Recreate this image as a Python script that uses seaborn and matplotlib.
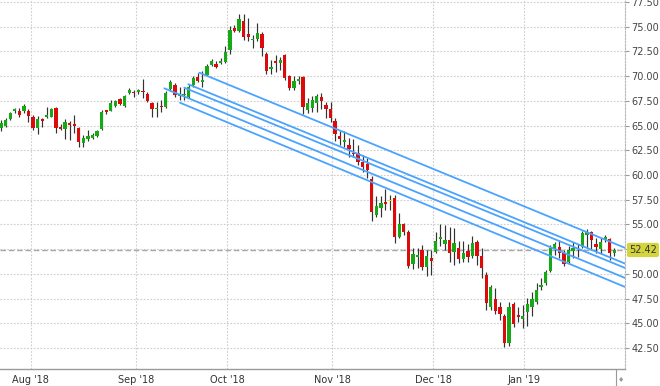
import numpy as np
import pandas as pd
import matplotlib
matplotlib.use("Agg")
import matplotlib.pyplot as plt
import matplotlib.transforms as mtransforms
from matplotlib.lines import Line2D
import seaborn as sns

sns.set_style("white")
plt.rcParams['font.family'] = ['DejaVu Sans']

# ---------------- data (daily OHLC, one value per trading day) ----------------
opens = [
    64.72, 64.99, 65.67, 66.50, 66.50, 66.50, 66.50, 65.84, 64.79, 65.64,
    65.84, 65.90, 66.75, 64.89, 64.62, 65.29, 65.19, 64.72, 63.27, 63.64,
    63.77, 63.95, 64.62, 66.51, 66.51, 67.01, 67.69, 67.01, 68.27, 68.37,
    68.37, 68.50, 68.16, 67.25, 66.65, 67.01, 66.91, 68.67, 69.10, 68.02,
    68.09, 67.92, 69.10, 69.94, 69.44, 70.12, 71.13, 71.20, 71.36, 71.46,
    72.64, 74.84, 74.60, 75.58, 74.26, 73.66, 73.76, 74.26, 72.24, 70.72,
    71.53, 71.36, 72.14, 70.01, 68.77, 69.54, 69.88, 66.58, 66.75, 67.25,
    67.92, 67.08, 66.68, 65.46, 63.98, 63.37, 63.04, 62.26, 62.20, 61.35,
    61.11, 59.60, 55.95, 56.69, 57.20, 57.38, 57.64, 53.76, 55.04, 54.27,
    51.00, 51.74, 52.41, 50.73, 51.64, 52.24, 53.53, 53.02, 53.43, 52.24,
    52.59, 51.47, 52.34, 51.81, 53.25, 51.81, 49.89, 46.68, 47.46, 46.62,
    45.74, 43.04, 46.92, 45.74, 45.44, 46.17, 46.62, 47.19, 48.70, 49.11,
    50.32, 52.59, 52.69, 52.08, 51.23, 52.34, 52.65, 52.75, 53.93, 54.20,
    52.99, 52.52, 53.43, 53.50, 52.15]
closes = [
    65.29, 65.56, 66.24, 66.68, 66.07, 67.01, 66.00, 64.72, 65.64, 65.46,
    66.07, 66.65, 64.72, 64.68, 65.39, 65.06, 64.99, 63.37, 63.77, 63.98,
    64.08, 64.42, 66.40, 66.40, 67.25, 67.49, 67.18, 68.02, 68.60, 68.27,
    68.60, 68.37, 67.49, 66.65, 66.75, 66.85, 68.27, 69.38, 68.09, 68.16,
    68.19, 68.93, 69.78, 69.54, 69.61, 71.03, 71.53, 70.96, 71.46, 72.47,
    74.67, 74.60, 75.78, 73.99, 73.99, 73.76, 74.33, 72.82, 70.55, 70.96,
    71.36, 71.63, 69.84, 68.77, 69.51, 69.71, 66.91, 67.25, 67.59, 67.99,
    67.52, 66.65, 65.80, 64.12, 63.61, 63.54, 62.63, 62.13, 61.35, 60.78,
    60.51, 56.29, 56.90, 57.14, 57.10, 57.38, 53.76, 55.04, 54.27, 50.83,
    51.98, 51.91, 50.73, 51.81, 51.33, 53.33, 53.70, 53.43, 52.08, 53.09,
    51.47, 52.08, 51.68, 53.09, 51.81, 50.62, 47.02, 48.64, 46.28, 45.94,
    42.98, 46.62, 44.93, 45.67, 45.74, 46.92, 47.46, 48.37, 48.87, 50.22,
    52.59, 53.02, 52.08, 50.97, 52.41, 52.59, 52.49, 54.10, 54.27, 53.43,
    52.69, 53.19, 53.70, 52.08, 52.42]
highs = [
    65.56, 65.77, 66.37, 66.81, 66.78, 67.18, 66.68, 66.07, 65.97, 65.77,
    66.88, 66.78, 66.88, 65.16, 65.67, 65.46, 66.07, 64.86, 64.05, 64.55,
    64.25, 64.55, 66.58, 66.58, 67.59, 67.59, 67.79, 68.09, 68.80, 68.60,
    68.70, 69.71, 68.40, 67.39, 67.39, 67.59, 68.50, 69.61, 69.31, 68.93,
    68.80, 69.21, 70.01, 70.32, 70.55, 71.23, 71.73, 71.53, 71.84, 73.05,
    75.07, 75.17, 76.29, 76.29, 75.88, 74.16, 75.38, 74.50, 72.44, 71.63,
    72.14, 71.94, 72.24, 70.12, 70.01, 70.01, 70.01, 67.79, 67.99, 68.19,
    68.30, 67.39, 67.39, 65.77, 64.45, 64.45, 63.74, 63.64, 63.04, 62.02,
    61.72, 59.90, 57.88, 57.88, 58.58, 57.98, 57.98, 56.16, 55.15, 54.44,
    52.62, 52.62, 52.92, 52.41, 52.41, 54.24, 55.04, 54.94, 54.74, 54.64,
    53.33, 53.33, 53.02, 53.83, 53.43, 52.62, 50.19, 48.87, 48.57, 47.15,
    45.94, 47.15, 47.15, 46.65, 46.85, 47.56, 48.17, 49.08, 49.58, 50.39,
    52.92, 53.22, 53.43, 52.41, 52.82, 53.22, 53.02, 54.34, 54.54, 54.34,
    53.63, 53.63, 53.93, 53.63, 52.62]
lows = [
    64.45, 64.86, 65.56, 66.24, 65.87, 66.27, 65.39, 64.55, 64.15, 64.86,
    65.77, 65.87, 64.25, 64.55, 63.64, 63.54, 64.25, 62.83, 62.83, 63.44,
    63.64, 63.84, 64.55, 66.17, 66.47, 66.88, 67.08, 66.88, 68.19, 67.89,
    68.19, 67.79, 67.39, 65.87, 65.87, 66.37, 66.78, 68.50, 67.89, 67.59,
    67.59, 67.79, 68.90, 69.41, 68.87, 70.01, 71.03, 70.82, 71.23, 71.33,
    72.24, 74.47, 74.47, 73.66, 73.56, 72.85, 73.56, 72.04, 70.22, 70.22,
    70.42, 70.62, 69.61, 68.60, 68.60, 69.20, 66.17, 66.27, 66.37, 66.37,
    66.68, 65.77, 65.36, 63.44, 63.04, 62.83, 61.82, 61.82, 61.01, 60.30,
    59.70, 55.35, 55.75, 55.75, 56.46, 56.46, 53.12, 53.63, 53.93, 50.59,
    50.49, 50.59, 50.39, 49.79, 49.89, 52.11, 52.82, 52.41, 51.20, 50.90,
    51.10, 51.20, 51.20, 51.61, 50.90, 49.58, 46.35, 46.35, 45.94, 45.33,
    42.60, 42.70, 44.63, 45.13, 44.53, 44.73, 45.74, 46.95, 48.37, 48.87,
    50.19, 51.91, 51.61, 50.80, 51.00, 51.61, 51.71, 52.62, 52.62, 52.41,
    52.11, 52.01, 53.22, 51.40, 51.81]

# month boundaries (position in trading-day index) and labels
month_pos = [6.49, 29.43, 49.44, 72.38, 94.45, 114.33]
month_labels = ["Aug '18", "Sep '18", "Oct '18", "Nov '18", "Dec '18", "Jan '19"]

# price axis ticks
price_ticks = [42.5, 45.0, 47.5, 50.0, 52.5, 55.0, 57.5, 60.0, 62.5, 65.0, 67.5, 70.0, 72.5, 75.0, 77.5]

# parallel trend lines (start index/price -> end index/price)
trend_x0 = [43.33, 40.92, 40.05, 35.68, 39.11]
trend_y0 = [70.35, 69.18, 68.83, 68.77, 67.31]
trend_x1 = [136.55, 136.55, 136.55, 136.55, 136.55]
trend_y1 = [52.59, 51.00, 50.56, 49.55, 48.64]

last_price = closes[-1]

# ---------------- figure ----------------
W, H = 660, 386
fig = plt.figure(figsize=(W / 100, H / 100), dpi=100)
ax = fig.add_axes([0, 17 / H, 625 / W, 369 / H])

GREEN, RED, YELLOW = "#16a916", "#dc0a0a", "#e6e600"
o = np.array(opens); c = np.array(closes)
hi = np.array(highs); lo = np.array(lows)
idx = np.arange(len(o))
colors = np.where(c > o, GREEN, np.where(c < o, RED, YELLOW))

# wicks and bodies
ax.vlines(idx, lo, hi, color="#333333", lw=0.85, zorder=3)
bottoms = np.minimum(o, c)
heights = np.maximum(np.abs(c - o), 0.13)
ax.bar(idx, heights, bottom=bottoms, width=0.72, color=colors, linewidth=0, zorder=4)

# trend lines via seaborn
rows = []
for k in range(len(trend_x0)):
    rows.append({"line": k, "x": trend_x0[k], "p": trend_y0[k]})
    rows.append({"line": k, "x": trend_x1[k], "p": trend_y1[k]})
tl = pd.DataFrame(rows)
sns.lineplot(data=tl, x="x", y="p", units="line", estimator=None, color="#4aa3ff",
             lw=1.3, ax=ax, legend=False, zorder=5)

# last price dashed line
ax.axhline(last_price, color="#a8a8a8", lw=1.0, ls=(0, (4, 2)), zorder=2)

# axes limits
ax.set_xlim(-0.2185, 136.33)
ax.set_ylim(40.378, 77.702)

# ticks and grid
ax.yaxis.tick_right()
ax.set_yticks(price_ticks)
ax.set_yticklabels(["" if abs(t - 52.5) < 1e-6 else f"{t:.2f}" for t in price_ticks])
ax.set_xticks(month_pos)
ax.set_xticklabels(month_labels)
ax.grid(True, color="#cdcdcd", ls=(0, (1.5, 1.5)), lw=0.8, zorder=0)
ax.tick_params(axis="y", length=3, width=0.8, color="#9a9a9a", labelcolor="#444444",
               labelsize=7, pad=1.5)
ax.tick_params(axis="x", length=3, width=0.8, color="#b0b0b0", labelcolor="#333333",
               labelsize=7, pad=1.0)
ax.set_xlabel("")
ax.set_ylabel("")

for s in ["top", "left"]:
    ax.spines[s].set_visible(False)
ax.spines["bottom"].set_color("#9a9a9a")
ax.spines["bottom"].set_linewidth(1.0)
ax.spines["right"].set_color("#b8b8b8")
ax.spines["right"].set_linestyle((0, (1.5, 1.5)))
ax.spines["right"].set_linewidth(0.8)

# last price label on the axis
trans = mtransforms.blended_transform_factory(ax.transAxes, ax.transData)
ax.text(1.0 + 4 / 625, last_price, f"{last_price:.2f}", transform=trans, ha="left",
        va="center", fontsize=7, color="#333333", zorder=10, clip_on=False,
        bbox=dict(boxstyle="round,pad=0.22", fc="#d4d43f", ec="none"))

# small scroll marker at bottom right
fig.add_artist(Line2D([616 / W, 616 / W], [0, 17 / H], color="#9a9a9a", lw=0.8))
fig.text(621 / W, 1 - 380 / H, "\u2666", fontsize=5, color="#9a9a9a", ha="center", va="center")

fig.savefig("out.png", dpi=100)
